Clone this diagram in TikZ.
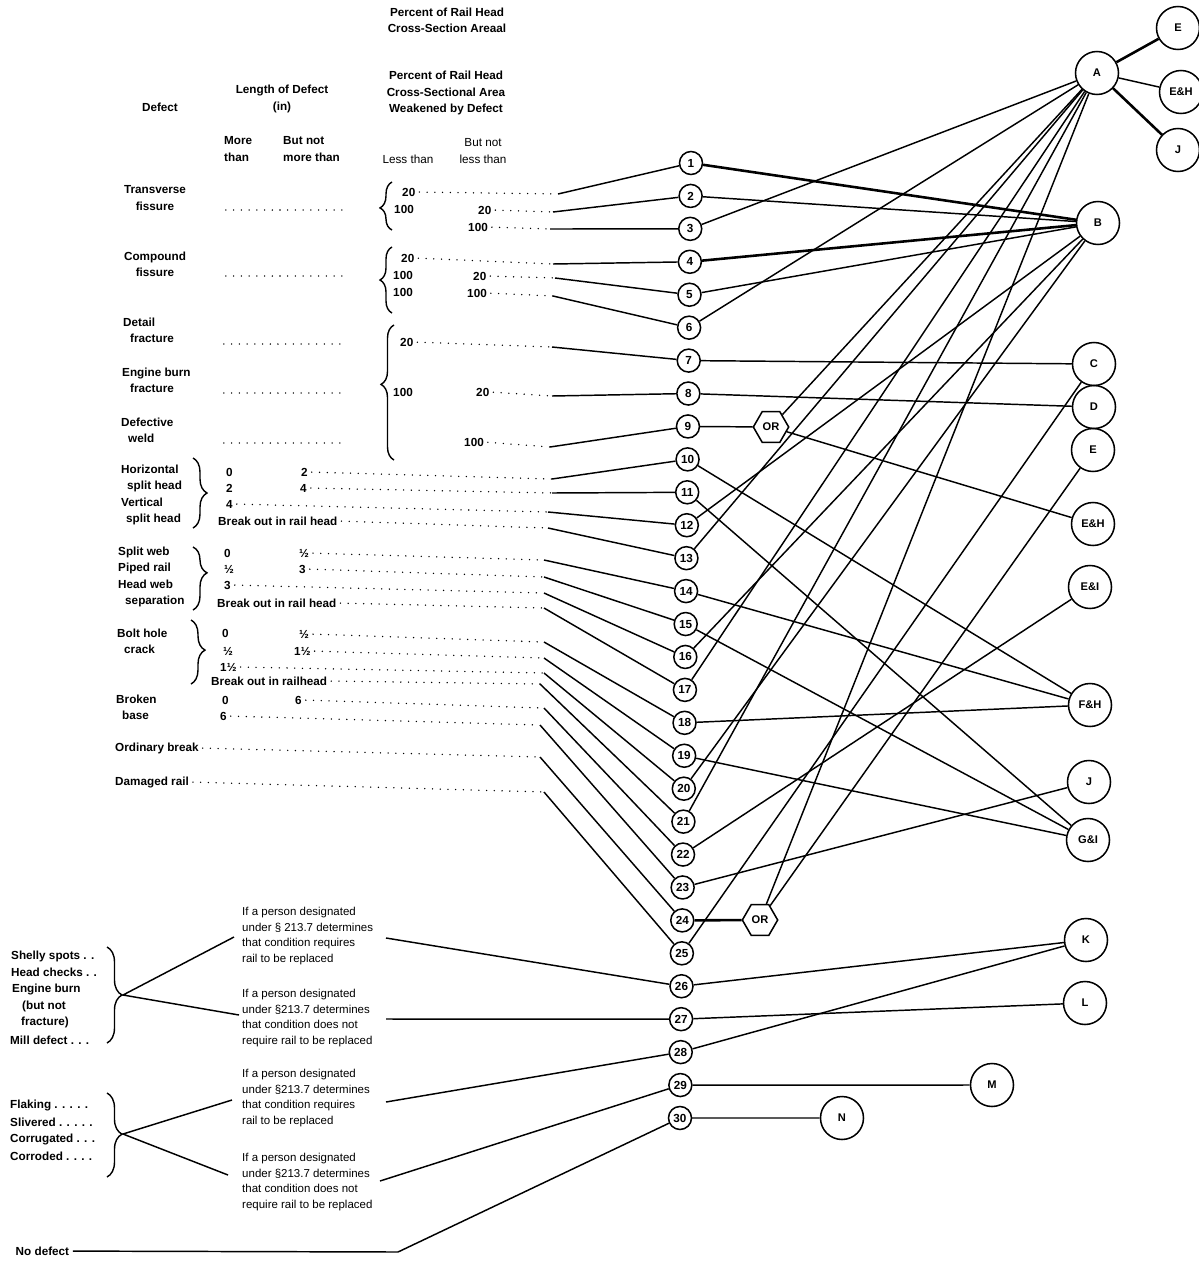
\documentclass[tikz,border=0pt]{standalone}
\usepackage{fontspec}
\setmainfont{Liberation Sans}
\usetikzlibrary{shapes.geometric,decorations.pathreplacing}

\tikzset{
vertice/.style={circle,draw,line width=1.3pt,minimum size=6.9mm,inner sep=0pt,font=\fontsize{10}{10}\selectfont\bfseries},
verticeLetra/.style={circle,draw,line width=1.3pt,minimum size=12.9mm,inner sep=0pt,font=\fontsize{9.5}{9.5}\selectfont\bfseries},
compuerta/.style={regular polygon,regular polygon sides=6,draw,line width=1.3pt,minimum size=10.6mm,inner sep=0pt,font=\fontsize{9.5}{9.5}\selectfont\bfseries},
arista/.style={line width=1.25pt},
aristaGruesa/.style={line width=2.2pt},
guia/.style={line width=1.3pt,line cap=round,dash pattern=on 0pt off 6.6pt,dash phase=3.3pt},
rotulo/.style={font=\fontsize{10}{13.8}\selectfont\bfseries,inner sep=0pt,anchor=west,align=left},
rotuloC/.style={rotulo,anchor=center,align=center},
fino/.style={font=\fontsize{10}{13.8}\selectfont,inner sep=0pt},
nota/.style={font=\fontsize{9.8}{13.6}\selectfont,inner sep=0pt,anchor=west,align=left},
llave/.style 2 args={decorate,decoration={brace,amplitude=#1,aspect=#2},line width=1.2pt}
}

\newcommand{\verticesRiel}{
\foreach \k in {1,...,30}{
\node[vertice] (n\k) at ({691-0.38*(\k-1)},{163+32.93*(\k-1)}) {\k};
}
\node[compuerta] (or1) at (771,427) {OR};
\node[compuerta] (or2) at (760,920) {OR};
}

\newcommand{\letrasRiel}{
\foreach \n/\x/\y/\t in {A/1097/73/A,B/1098/223/B,C/1094/364/C,D/1094/407/D,E/1093/450/E,
EH/1093/524/E\&H,EI/1090/587/E\&I,FH/1090/705/F\&H,J/1089/782/J,GI/1088/840/G\&I,
K/1086/940/K,L/1085/1003/L,M/992/1085/M,N/842/1118/N,
Etop/1178/28/E,EHtop/1181/92/E\&H,Jtop/1178/150/J}{
\node[verticeLetra] (\n) at (\x,\y) {\t};
}
}

\newcommand{\aristasRiel}{
\draw[aristaGruesa] (n1)--(B);
\draw[arista] (n2)--(B);
\draw[arista] (n3)--(A);
\draw[aristaGruesa] (n4)--(B);
\draw[arista] (n5)--(B);
\draw[arista] (n6)--(A);
\draw[arista] (n7)--(C);
\draw[arista] (n8)--(D);
\draw[arista] (n9)--(or1);
\draw[arista] (or1)--(A);
\draw[arista] (or1)--(EH);
\draw[arista] (n10)--(FH);
\draw[arista] (n11)--(GI);
\draw[arista] (n12)--(B);
\draw[arista] (n13)--(A);
\draw[arista] (n14)--(FH);
\draw[arista] (n15)--(GI);
\draw[arista] (n16)--(B);
\draw[arista] (n17)--(A);
\draw[arista] (n18)--(FH);
\draw[arista] (n19)--(GI);
\draw[arista] (n20)--(B);
\draw[arista] (n21)--(A);
\draw[arista] (n22)--(EI);
\draw[arista] (n23)--(J);
\draw[aristaGruesa] (n24)--(or2);
\draw[arista] (or2)--(A);
\draw[arista] (or2)--(E);
\draw[arista] (n25)--(C);
\draw[arista] (n26)--(K);
\draw[arista] (n27)--(L);
\draw[arista] (n28)--(K);
\draw[arista] (n29)--(M);
\draw[arista] (n30)--(N);
\draw[aristaGruesa] (A)--(Etop);
\draw[arista] (A)--(EHtop);
\draw[aristaGruesa] (A)--(Jtop);
}

\newcommand{\tablaRiel}{
% encabezados
\node[rotuloC] (h1) at (447,20) {Percent of Rail Head\\Cross-Section Areaal};
\node[rotuloC] (h2) at (446,93) {Percent of Rail Head\\Cross-Sectional Area\\Weakened by Defect};
\node[rotuloC] (h3) at (282,99) {Length of Defect\\(in)};
\node[rotuloC] (h4) at (160,107) {Defect};
\node[rotulo] (h5) at (224,149) {More\\than};
\node[rotulo] (h6) at (283,149) {But not\\more than};
\node[fino] (h7) at (408,159) {Less than};
\node[fino,align=center] (h8) at (483,151) {But not\\less than};
% fisuras
\node[rotuloC] (d1) at (155,198) {Transverse\\fissure};
\draw[guia] (222,210) -- (344,210);
\draw[llave={3.6mm}{0.46}] (392,230) -- (392,182);
\node[rotulo] (r1) at (402,192) {20};
\node[rotulo] (c2) at (394,209) {100};
\node[rotulo] (r2) at (478,210) {20};
\node[rotulo] (r3) at (468,227) {100};
\node[rotuloC] (d2) at (155,264) {Compound\\fissure};
\draw[guia] (222,276) -- (344,276);
\draw[llave={3.6mm}{0.5}] (392,313) -- (392,247);
\node[rotulo] (r4) at (401,258) {20};
\node[rotulo] (c5) at (393,275) {100};
\node[rotulo] (r5) at (473,276) {20};
\node[rotulo] (c6) at (393,292) {100};
\node[rotulo] (r6) at (467,293) {100};
% fracturas
\node[rotulo] (d3) at (123,330) {Detail\\\hspace*{2.1mm}fracture};
\node[rotulo] (d4) at (122,380) {Engine burn\\\hspace*{2.4mm}fracture};
\node[rotulo] (d5) at (121,430) {Defective\\\hspace*{2.1mm}weld};
\draw[guia] (220,344) -- (342,344);
\draw[guia] (220,393) -- (342,393);
\draw[guia] (220,443) -- (342,443);
\draw[llave={3.9mm}{0.56}] (394,460) -- (394,325);
\node[rotulo] (r7) at (400,342) {20};
\node[rotulo] (c8) at (393,392) {100};
\node[rotulo] (r8) at (476,392) {20};
\node[rotulo] (r9) at (464,442) {100};
% cabeza partida
\node[rotulo] (d6) at (121,495) {Horizontal\\\hspace*{1.8mm}split head\\Vertical\\\hspace*{1.5mm}split head};
\draw[llave={4.2mm}{0.5}] (193,458) -- (193,528);
\node[rotulo] (c10) at (226,472) {0};
\node[rotulo] (r10) at (301,472) {2};
\node[rotulo] (c11) at (226,488) {2};
\node[rotulo] (r11) at (300,488) {4};
\node[rotulo] (r12) at (226,504) {4};
\node[rotulo] (r13) at (218,521) {Break out in rail head};
% alma partida
\node[rotulo] (d7) at (118,577) {Split web\\Piped rail\\Head web\\\hspace*{2.1mm}separation};
\draw[llave={4.2mm}{0.41}] (193,547) -- (193,610);
\node[rotulo] (c14) at (224,553) {0};
\node[rotulo] (r14) at (299,553) {½};
\node[rotulo] (c15) at (224,569) {½};
\node[rotulo] (r15) at (299,569) {3};
\node[rotulo] (r16) at (224,585) {3};
\node[rotulo] (r17) at (217,603) {Break out in rail head};
% agujero de perno
\node[rotulo] (d8) at (117,641) {Bolt hole\\\hspace*{2.1mm}crack};
\draw[llave={4.2mm}{0.47}] (191,620) -- (191,684);
\node[rotulo] (c18) at (222,633) {0};
\node[rotulo] (r18) at (299,634) {½};
\node[rotulo] (c19) at (223,651) {½};
\node[rotulo] (r19) at (294,651) {1½};
\node[rotulo] (r20) at (220,667) {1½};
\node[rotulo] (r21) at (211,681) {Break out in railhead};
% base rota
\node[rotulo] (d9) at (116,707) {Broken\\\hspace*{1.8mm}base};
\node[rotulo] (c22) at (222,700) {0};
\node[rotulo] (r22) at (295,700) {6};
\node[rotulo] (r23) at (220,716) {6};
\node[rotulo] (r24) at (115,748) {Ordinary break};
\node[rotulo] (r25) at (115,782) {Damaged rail};
}

\newcommand{\guiasRiel}{
\foreach \k/\x/\y in {1/558/194,2/553/212,3/550/229,4/553/264,5/555/278,6/553/296,
7/552/347,8/552/396,9/550/447,10/552/479,11/552/493,12/548/512,13/548/528,
14/544/560,15/544/577,16/544/593,17/544/608,18/544/642,19/544/658,20/544/673,
21/540/684,22/544/708,23/540/725,24/540/757,25/544/792}{
\coordinate (p\k) at (\x,\y);
\draw[guia] (r\k.east) -- (p\k);
\draw[arista] (p\k) -- (n\k);
}
}

\newcommand{\inferiorRiel}{
% manchas
\node[rotulo] (s1) at (11,956) {Shelly spots . .};
\node[rotulo] (s2) at (11,972) {Head checks . .};
\node[rotulo] (s3) at (12,989) {Engine burn};
\node[rotulo] (s4) at (22,1006) {(but not};
\node[rotulo] (s5) at (21,1022) {fracture)};
\node[rotulo] (s6) at (10,1040) {Mill defect . . .};
\draw[llave={4.5mm}{0.5}] (107,947) -- (107,1043);
\coordinate (t1) at (123,995);
\coordinate (q1) at (234,937);
\coordinate (q2) at (239,1015);
\draw[arista] (q1) -- (t1) -- (q2);
\node[nota] (bl1) at (242,936) {If a person designated\\under § 213.7 determines\\that condition requires\\rail to be replaced};
\node[nota] (bl2) at (242,1018) {If a person designated\\under §213.7 determines\\that condition does not\\require rail to be replaced};
\coordinate (e1) at (386,938);
\coordinate (e2) at (386,1019);
\draw[arista] (e1) -- (n26);
\draw[arista] (e2) -- (n27);
% escamas
\node[rotulo] (f1) at (10,1105) {Flaking . . . . .};
\node[rotulo] (f2) at (10,1122) {Slivered . . . . .};
\node[rotulo] (f3) at (10,1139) {Corrugated . . .};
\node[rotulo] (f4) at (10,1156) {Corroded . . . .};
\draw[llave={4.5mm}{0.49}] (107,1093) -- (107,1177);
\coordinate (t2) at (123,1134);
\coordinate (q3) at (232,1100);
\coordinate (q4) at (228,1175);
\draw[arista] (q3) -- (t2) -- (q4);
\node[nota] (bl3) at (242,1098) {If a person designated\\under §213.7 determines\\that condition requires\\rail to be replaced};
\node[nota] (bl4) at (242,1182) {If a person designated\\under §213.7 determines\\that condition does not\\require rail to be replaced};
\coordinate (e3) at (386,1102);
\coordinate (e4) at (380,1181);
\draw[arista] (e3) -- (n28);
\draw[arista] (e4) -- (n29);
% sin defecto
\node[rotulo,inner xsep=3pt] (nd) at (12,1251) {No defect};
\coordinate (e5) at (398,1252);
\draw[arista] (nd) -- (e5) -- (n30);
}

\begin{document}
\begin{tikzpicture}[x=0.3mm,y=-0.3mm]
\useasboundingbox (0,0) rectangle (1199,1285);
\tablaRiel
\verticesRiel
\letrasRiel
\aristasRiel
\guiasRiel
\inferiorRiel
\end{tikzpicture}
\end{document}
